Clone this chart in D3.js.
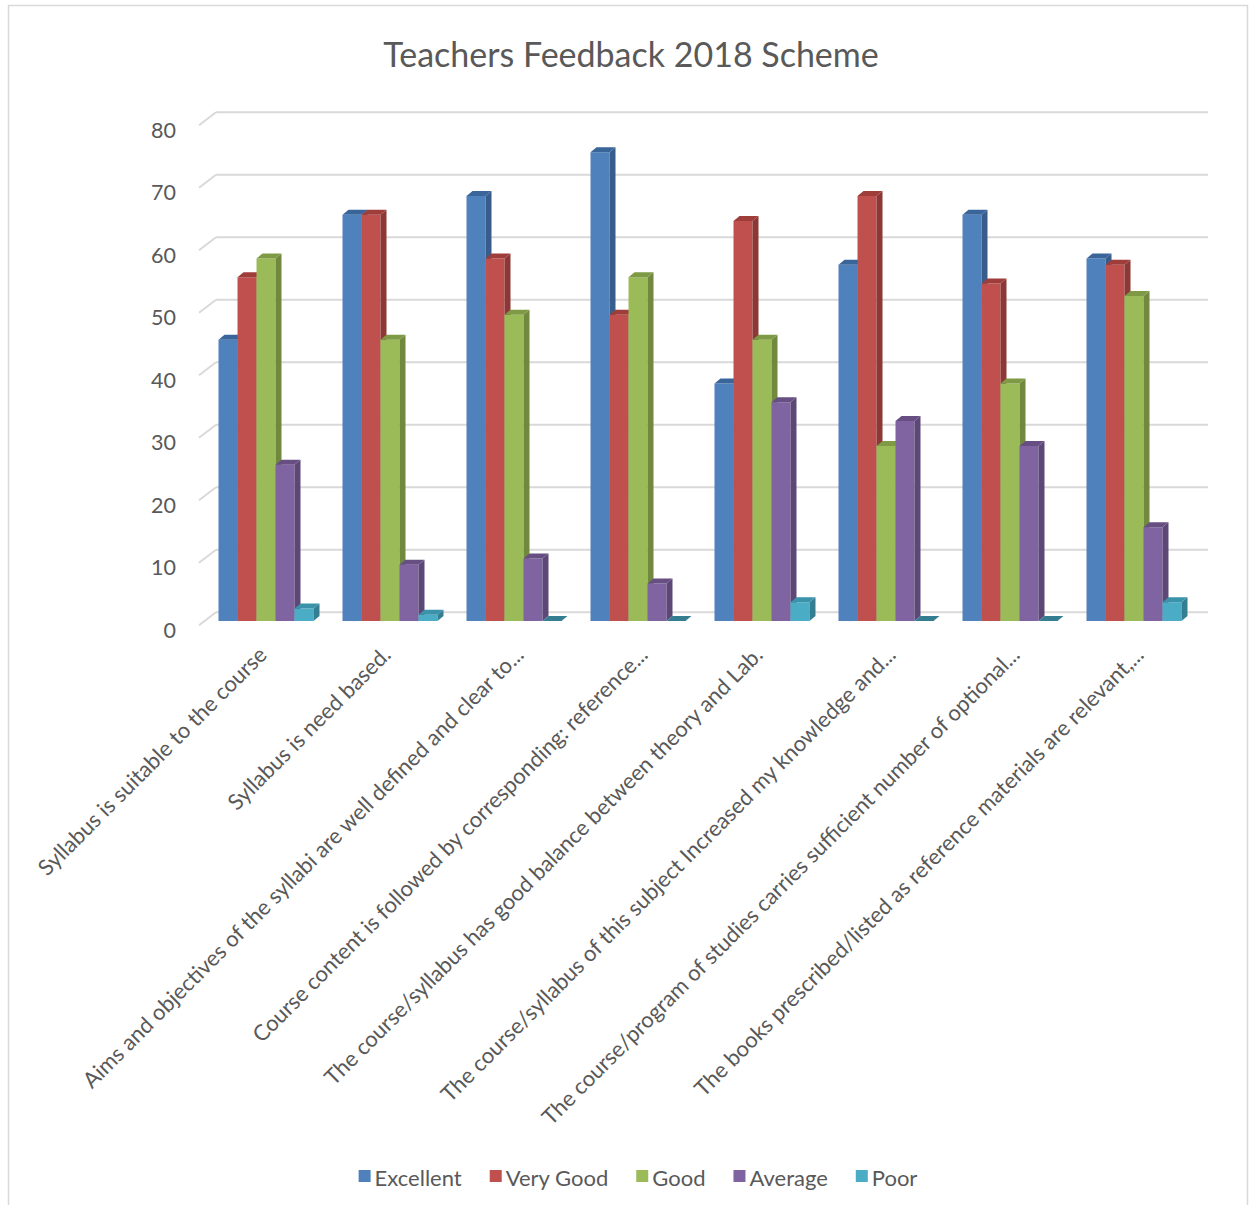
<!DOCTYPE html>
<html>
<head>
<meta charset="utf-8">
<script src="https://cdn.jsdelivr.net/npm/d3@7"></script>
<style>
  html, body { margin: 0; padding: 0; background: #fff; }
  svg { display: block; }
  text { font-family: Lato, "Open Sans", sans-serif; fill: #595959; }
</style>
</head>
<body>
<svg id="chart" width="1252" height="1205"></svg>
<script>
const title = "Teachers Feedback 2018 Scheme";
const categories = [
  "Syllabus is suitable to the course",
  "Syllabus is need based.",
  "Aims and objectives of the syllabi are well defined and clear to...",
  "Course content is followed by corresponding: reference...",
  "The course/syllabus has good balance between theory and Lab.",
  "The course/syllabus of this subject Increased my knowledge and...",
  "The course/program of studies carries sufficient number of optional...",
  "The books prescribed/listed as reference materials are relevant,..."
];
const seriesNames = ["Excellent", "Very Good", "Good", "Average", "Poor"];
const excellent = [45, 65, 68, 75, 38, 57, 65, 58];
const veryGood  = [55, 65, 58, 49, 64, 68, 54, 57];
const good      = [58, 45, 49, 55, 45, 28, 38, 52];
const average   = [25,  9, 10,  6, 35, 32, 28, 15];
const poor      = [ 2,  1,  0,  0,  3,  0,  0,  3];
const yTicks = [0, 10, 20, 30, 40, 50, 60, 70, 80];

const frontColors = ["#4F81BD", "#C0504D", "#9BBB59", "#8064A2", "#4BACC6"];
const sideColors  = ["#385D8A", "#8C3836", "#71893F", "#5C4776", "#357D91"];
const topColors   = ["#3A659B", "#9E3D3A", "#7E9A45", "#674F84", "#3A93AB"];

const seriesValues = [excellent, veryGood, good, average, poor];

const svg = d3.select("#chart");

// frame
svg.append("rect")
  .attr("x", 8.5).attr("y", 5.5).attr("width", 1239).attr("height", 1260)
  .attr("fill", "#fff").attr("stroke", "#d9d9d9").attr("stroke-width", 1.5);

// title
svg.append("text")
  .attr("x", 631).attr("y", 53)
  .attr("text-anchor", "middle").attr("dominant-baseline", "central")
  .style("font-size", "34px")
  .text(title);

const x0 = d3.scaleBand().domain(categories).range([204, 1196])
  .paddingInner(0.234).paddingOuter(0.117);
const x1 = d3.scaleBand().domain(seriesNames).range([0, x0.bandwidth()]);
const y = d3.scaleLinear().domain([0, 80]).range([621, 121]);

const depthX = 6, depthY = 5;      // bar depth offset
const wallDy = 8.7;                // back wall offset
const wallLeft = 216, wallRight = 1208, slantDx = 17, slantDy = 13;

// gridlines on back wall + side wall slants
const grid = svg.append("g").attr("stroke", "#d9d9d9").attr("stroke-width", 2).attr("fill", "none");
yTicks.forEach(t => {
  const yb = y(t) - wallDy;
  grid.append("line").attr("x1", wallLeft).attr("x2", wallRight).attr("y1", yb).attr("y2", yb);
  grid.append("line").attr("x1", wallLeft - slantDx).attr("y1", yb + slantDy).attr("x2", wallLeft).attr("y2", yb);
});

// y axis labels
const yAxis = d3.axisLeft(y).tickValues(yTicks).tickSize(0).tickPadding(0);
const yg = svg.append("g").attr("transform", "translate(176, 9.5)").call(yAxis);
yg.select(".domain").remove();
yg.selectAll("text").style("font-size", "21.5px").attr("fill", "#595959")
  .style("font-family", "Lato, 'Open Sans', sans-serif");

// bars
const bars = svg.append("g");
categories.forEach((c, ci) => {
  seriesNames.forEach((s, si) => {
    const v = seriesValues[si][ci];
    const x = x0(c) + x1(s);
    const w = x1.bandwidth();
    const top = y(v), bottom = y(0);
    const g = bars.append("g");
    if (v > 0) {
      g.append("rect").attr("x", x).attr("y", top).attr("width", w).attr("height", bottom - top)
        .attr("fill", frontColors[si]);
      g.append("path").attr("d", `M${x + w},${top} L${x + w + depthX},${top - depthY} L${x + w + depthX},${bottom - depthY} L${x + w},${bottom} Z`)
        .attr("fill", sideColors[si]);
    }
    g.append("path").attr("d", `M${x},${top} L${x + depthX},${top - depthY} L${x + w + depthX},${top - depthY} L${x + w},${top} Z`)
      .attr("fill", v > 0 ? topColors[si] : sideColors[si]);
  });
});

// category labels
const xl = svg.append("g");
categories.forEach(c => {
  const cx = x0(c) + x0.bandwidth() / 2;
  const off = c.endsWith("...") ? 0 : -9;
  xl.append("text")
    .attr("transform", `translate(${cx + off},${645}) rotate(-45)`)
    .attr("text-anchor", "end")
    .attr("dy", "0.72em")
    .style("font-size", "22px")
    .text(c);
});

// legend
const legend = svg.append("g");
let lx = 0;
seriesNames.forEach((s, i) => {
  const g = legend.append("g");
  g.append("rect").attr("x", 0).attr("y", -7).attr("width", 12).attr("height", 12).attr("fill", frontColors[i]);
  const t = g.append("text").attr("x", 16).attr("y", 0).attr("dominant-baseline", "central")
    .style("font-size", "22px").text(s);
  const tw = t.node().getComputedTextLength();
  g.attr("transform", `translate(${lx},0)`);
  lx += 16 + tw + 28;
});
const totalW = lx - 28;
legend.attr("transform", `translate(${638 - totalW / 2},1177)`);
</script>
</body>
</html>
